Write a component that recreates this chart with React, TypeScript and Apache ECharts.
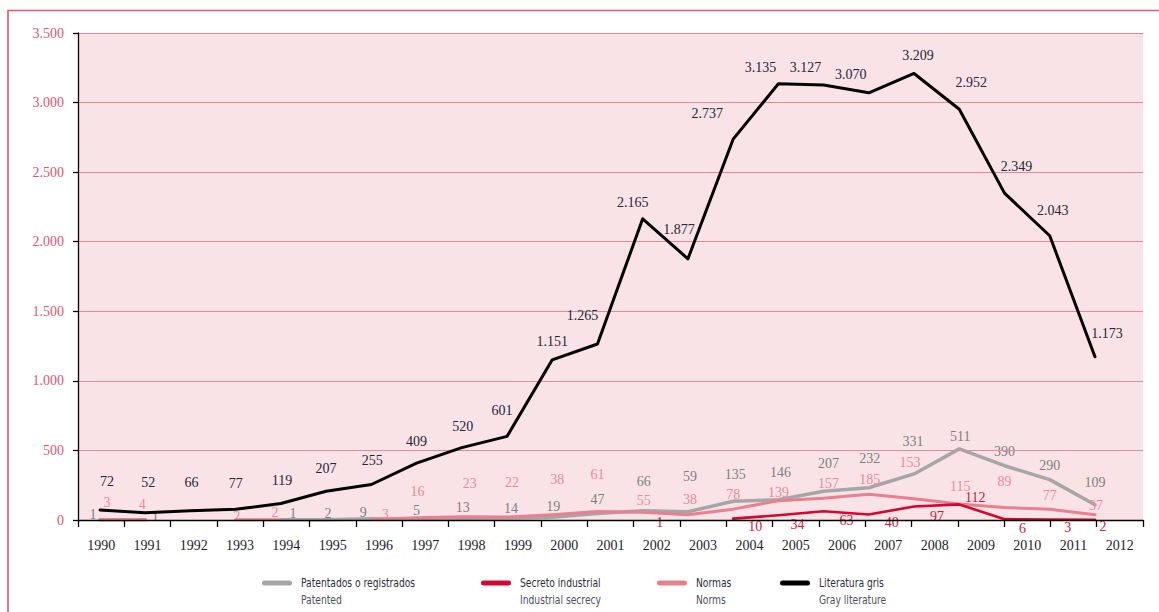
import React, { useEffect, useRef } from "react";
import * as echarts from "echarts";

// ---- data ----
const years = [
  "1990", "1991", "1992", "1993", "1994", "1995", "1996", "1997", "1998", "1999", "2000", "2001",
  "2002", "2003", "2004", "2005", "2006", "2007", "2008", "2009", "2010", "2011", "2012",
];
const patentados: (number | null)[] = [1, 1, null, null, 1, 2, 9, 5, 13, 14, 19, 47, 66, 59, 135, 146, 207, 232, 331, 511, 390, 290, 109];
const secreto: (number | null)[] = [null, null, null, null, null, null, null, null, null, null, null, null, 1, null, 10, 34, 63, 40, 97, 112, 6, 3, 2];
const normas: (number | null)[] = [3, 4, null, 2, 2, null, 3, 16, 23, 22, 38, 61, 55, 38, 78, 139, 157, 185, 153, 115, 89, 77, 37];
const literatura: number[] = [72, 52, 66, 77, 119, 207, 255, 409, 520, 601, 1151, 1265, 2165, 1877, 2737, 3135, 3127, 3070, 3209, 2952, 2349, 2043, 1173];
const yTicks = [0, 500, 1000, 1500, 2000, 2500, 3000, 3500];

const legendItems = [
  { es: "Patentados o registrados", en: "Patented", color: "#a6a6a6" },
  { es: "Secreto industrial", en: "Industrial secrecy", color: "#d2082e" },
  { es: "Normas", en: "Norms", color: "#e8808f" },
  { es: "Literatura gris", en: "Gray literature", color: "#000000" },
];

// ---- label placement (offsets from each point, px) ----
const literaturaOff = [[7, -28], [3, -30], [1, -28], [0, -26], [1, -23], [0, -23], [1, -24], [0, -22], [1, -21], [-5, -26], [0, -18], [-15, -28], [-10, -16], [-9, -29], [-26, -26], [-18, -16], [-18, -17], [-18, -18], [4, -18], [12, -27], [12, -27], [3, -25], [12, -23]];
const patentadosOff = [[-7, -5], [10, -3], null, null, [12, -6], [2, -6], [-8, -6], [0, -9], [1, -11], [4, -10], [1, -11], [0, -14], [1, -29], [2, -35], [2, -27], [2, -27], [5, -28], [1, -29], [-1, -32], [1, -12], [0, -14], [0, -14], [0, -22]];
const normasOff = [[7, -17], [-3, -15], null, [1, -3], [-6, -7], null, [14, -5], [1, -26], [8, -33], [5, -34], [5, -35], [0, -37], [1, -12], [2, -15], [0, -15], [0, -8], [5, -15], [1, -15], [-4, -36], [1, -17], [0, -26], [0, -14], [1, -9]];
const secretoOff = [null, null, null, null, null, null, null, null, null, null, null, null, [17, 3], null, [22, 8], [19, 9], [23, 9], [23, 8], [23, 10], [16, -7], [18, 9], [18, 8], [8, 7]];

// hidden value axis that places the data points (the original's points drift slightly from the year labels)
const X_MIN = 1989.514;
const X_MAX = 2013.062;

const SERIF = "'Liberation Serif', 'DejaVu Serif', serif";
const NARROW = "'Liberation Sans Narrow', 'DejaVu Sans Condensed', 'Open Sans', sans-serif";

function fmt(v: number): string {
  return String(Math.round(v)).replace(/\B(?=(\d{3})+(?!\d))/g, ".");
}

function buildData(vals: (number | null)[], offs: any[]) {
  return years.map((y, i) => {
    const v = vals[i];
    if (v == null) return { value: [Number(y), "-"] };
    const o = offs[i] || [0, 0];
    return { value: [Number(y), v], label: { offset: o } };
  });
}

function lineSeries(name: string, vals: (number | null)[], offs: any[], color: string, width: number, labelColor: string, z: number) {
  return {
    type: "line",
    name,
    xAxisIndex: 1,
    yAxisIndex: 0,
    data: buildData(vals, offs),
    symbol: "circle",
    symbolSize: 0,
    showSymbol: true,
    connectNulls: false,
    silent: true,
    z,
    lineStyle: { color, width, cap: "round", join: "round" },
    itemStyle: { color },
    label: {
      show: true,
      position: "inside",
      formatter: (p: any) => fmt(p.value[1]),
      color: labelColor,
      fontFamily: SERIF,
      fontSize: 14,
      textBorderWidth: 0,
    },
  };
}

export default function App() {
  const ref = useRef<HTMLDivElement>(null);

  useEffect(() => {
    document.body.style.margin = "0";
    const chart = echarts.init(ref.current!, null, { renderer: "svg" });

    const legendX = [262, 481, 657, 780];
    const legendGraphics: any[] = [];
    legendItems.forEach((it, i) => {
      const x = legendX[i];
      legendGraphics.push({
        type: "rect",
        shape: { x, y: 580.5, width: 30, height: 5, r: 2.5 },
        style: { fill: it.color },
        silent: true,
      });
      legendGraphics.push({
        type: "text",
        x: x + 39,
        y: 583,
        scaleX: 0.85,
        style: { text: it.es, fill: "#2e2e3c", font: `12px ${NARROW}`, textVerticalAlign: "middle", textAlign: "left" },
        silent: true,
      });
      legendGraphics.push({
        type: "text",
        x: x + 39,
        y: 600,
        scaleX: 0.85,
        style: { text: it.en, fill: "#50505c", font: `12px ${NARROW}`, textVerticalAlign: "middle", textAlign: "left" },
        silent: true,
      });
    });

    chart.setOption({
      animation: false,
      backgroundColor: "#ffffff",
      grid: {
        left: 78,
        right: 16,
        top: 33,
        bottom: 92,
        show: true,
        backgroundColor: "#f9e3e7",
        borderWidth: 0,
      },
      xAxis: [
        {
          type: "category",
          data: years,
          boundaryGap: true,
          axisLine: { show: true, lineStyle: { color: "#000", width: 1.3 } },
          axisTick: { show: true, length: 7, lineStyle: { color: "#000", width: 1.3 }, alignWithLabel: false },
          axisLabel: { color: "#1d1d30", fontFamily: SERIF, fontSize: 14, margin: 18, interval: 0 },
          splitLine: { show: false },
          z: 5,
        },
        {
          type: "value",
          min: X_MIN,
          max: X_MAX,
          show: false,
          splitLine: { show: false },
        },
      ],
      yAxis: {
        type: "value",
        min: yTicks[0],
        max: yTicks[yTicks.length - 1],
        interval: yTicks[1] - yTicks[0],
        axisLine: { show: true, lineStyle: { color: "#000", width: 1.3 } },
        axisTick: { show: true, length: 5, lineStyle: { color: "#000", width: 1.3 } },
        axisLabel: {
          color: "#e0566e",
          fontFamily: SERIF,
          fontSize: 14,
          margin: 14,
          formatter: (v: number) => fmt(v),
        },
        splitLine: { show: true, lineStyle: { color: "#e6899a", width: 1.2 } },
        z: 5,
      },
      series: [
        lineSeries("Patentados o registrados", patentados, patentadosOff, "#a6a6a6", 3.5, "#7f7f7f", 2),
        lineSeries("Normas", normas, normasOff, "#e8808f", 3, "#ec8a99", 3),
        lineSeries("Secreto industrial", secreto, secretoOff, "#d2082e", 2.6, "#d3163c", 4),
        lineSeries("Literatura gris", literatura, literaturaOff, "#000000", 3, "#25253a", 6),
      ],
      graphic: [
        {
          type: "polyline",
          shape: { points: [[8, 612], [8, 10.5], [1159, 10.5]] },
          style: { stroke: "#dc5a75", lineWidth: 1.6, fill: "none" },
          silent: true,
        },
        ...legendGraphics,
      ],
    });

    return () => chart.dispose();
  }, []);

  return <div ref={ref} style={{ width: 1159, height: 612 }} />;
}
